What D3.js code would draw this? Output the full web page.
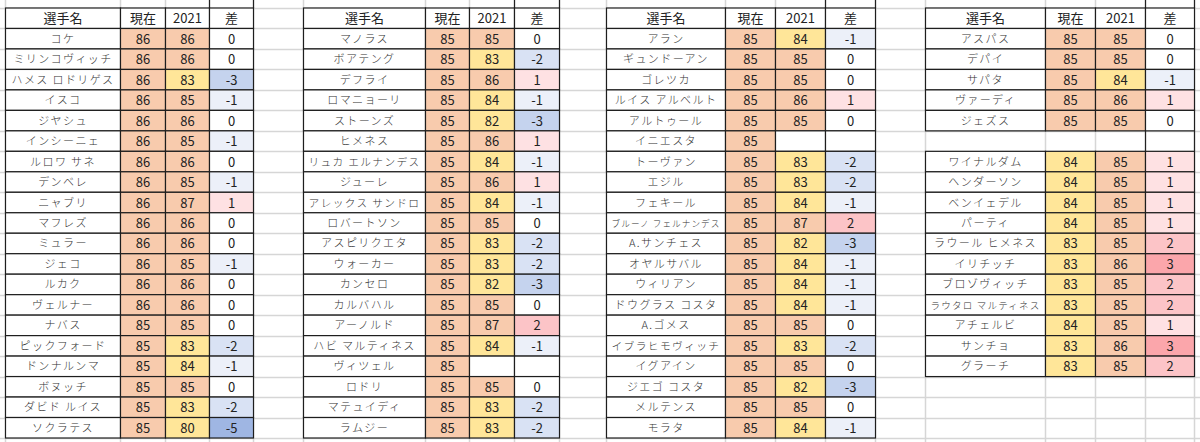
<!DOCTYPE html>
<meta charset="utf-8">
<title>選手評価 現在 / 2021</title>
<style>
body { margin: 0; background: #fff; }
svg { display: block; }
</style>
<svg id="sheet"></svg>
<script src="https://cdn.jsdelivr.net/npm/d3@7"></script>
<script>
// header labels
const headers = ["選手名", "現在", "2021", "差"];

// table 1
const players1 = ["コケ", "ミリンコヴィッチ", "ハメス ロドリゲス", "イスコ", "ジヤシュ", "インシーニェ", "ルロワ サネ", "デンベレ", "ニャブリ", "マフレズ",
	"ミュラー", "ジェコ", "ルカク", "ヴェルナー", "ナバス", "ピックフォード", "ドンナルンマ", "ボヌッチ", "ダビド ルイス", "ソクラテス"];
const now1 = [86, 86, 86, 86, 86, 86, 86, 86, 86, 86, 86, 86, 86, 86, 85, 85, 85, 85, 85, 85];
const rate1 = [86, 86, 83, 85, 86, 85, 86, 85, 87, 86, 86, 85, 86, 86, 85, 83, 84, 85, 83, 80];
const diff1 = [0, 0, -3, -1, 0, -1, 0, -1, 1, 0, 0, -1, 0, 0, 0, -2, -1, 0, -2, -5];

// table 2
const players2 = ["マノラス", "ボアテング", "デフライ", "ロマニョーリ", "ストーンズ", "ヒメネス", "リュカ エルナンデス", "ジューレ", "アレックス サンドロ", "ロバートソン",
	"アスピリクエタ", "ウォーカー", "カンセロ", "カルバハル", "アーノルド", "ハビ マルティネス", "ヴィツェル", "ロドリ", "マテュイディ", "ラムジー"];
const now2 = [85, 85, 85, 85, 85, 85, 85, 85, 85, 85, 85, 85, 85, 85, 85, 85, 85, 85, 85, 85];
const rate2 = [85, 83, 86, 84, 82, 86, 84, 86, 84, 85, 83, 83, 82, 85, 87, 84, null, 85, 83, 83];
const diff2 = [0, -2, 1, -1, -3, 1, -1, 1, -1, 0, -2, -2, -3, 0, 2, -1, null, 0, -2, -2];

// table 3
const players3 = ["アラン", "ギュンドーアン", "ゴレツカ", "ルイス アルベルト", "アルトゥール", "イニエスタ", "トーヴァン", "エジル", "フェキール", "ブルーノ フェルナンデス",
	"A.サンチェス", "オヤルサバル", "ウィリアン", "ドウグラス コスタ", "A.ゴメス", "イブラヒモヴィッチ", "イグアイン", "ジエゴ コスタ", "メルテンス", "モラタ"];
const now3 = [85, 85, 85, 85, 85, 85, 85, 85, 85, 85, 85, 85, 85, 85, 85, 85, 85, 85, 85, 85];
const rate3 = [84, 85, 85, 86, 85, null, 83, 83, 84, 87, 82, 84, 84, 84, 85, 83, 85, 82, 85, 84];
const diff3 = [-1, 0, 0, 1, 0, null, -2, -2, -1, 2, -3, -1, -1, -1, 0, -2, 0, -3, 0, -1];

// table 4 (null name = empty spacer row)
const players4 = ["アスパス", "デパイ", "サパタ", "ヴァーディ", "ジェズス", null,
	"ワイナルダム", "ヘンダーソン", "ベンイェデル", "パーティ", "ラウール ヒメネス", "イリチッチ", "ブロゾヴィッチ", "ラウタロ マルティネス", "アチェルビ", "サンチョ", "グラーチ"];
const now4 = [85, 85, 85, 85, 85, null, 84, 84, 84, 84, 83, 83, 83, 83, 84, 83, 83];
const rate4 = [85, 85, 84, 86, 85, null, 85, 85, 85, 85, 85, 86, 85, 85, 85, 86, 85];
const diff4 = [0, 0, -1, 1, 0, null, 1, 1, 1, 1, 2, 3, 2, 2, 1, 3, 2];

const width = 1200, height = 442;
const svg = d3.select("#sheet").attr("width", width).attr("height", height);

// column edges of each block on the sheet
const edges = [
	[5, 120, 165, 209, 253],
	[303, 425, 469, 514, 559],
	[606, 725, 775, 825, 875],
	[925, 1045, 1095, 1145, 1194]
];

const tables = [
	{players: players1, now: now1, rate: rate1, diff: diff1},
	{players: players2, now: now2, rate: rate2, diff: diff2},
	{players: players3, now: now3, rate: rate3, diff: diff3},
	{players: players4, now: now4, rate: rate4, diff: diff4}
];

// row 0 = header
const y = d3.scaleLinear().domain([0, 21]).range([8, 438]);
const rowH = y(1) - y(0);

const rateColor = d3.scaleThreshold().domain([85]).range(["#ffe699", "#f8cbad"]);
const diffColor = d3.scaleLinear().domain([-5, 0, 3]).range(["#9fb6e3", "#ffffff", "#fba6ab"]);

// sheet gridlines
const grid = svg.append("g").attr("class", "grid");
grid.selectAll("line.h").data(d3.range(0, 22)).join("line")
	.attr("class", "h")
	.attr("x1", 0).attr("x2", width)
	.attr("y1", d => Math.round(y(d)) + 0.5).attr("y2", d => Math.round(y(d)) + 0.5)
	.attr("stroke", "#d6d6d6").attr("stroke-width", 1.5);
grid.selectAll("line.v").data(edges.flat()).join("line")
	.attr("class", "v")
	.attr("x1", d => d + 0.5).attr("x2", d => d + 0.5)
	.attr("y1", 0).attr("y2", height)
	.attr("stroke", "#d6d6d6").attr("stroke-width", 1.5);

// dark stubs above the headers (borders of rows cut off at the top)
edges.forEach(e => {
	[e[3], e[4]].forEach(x => {
		svg.append("line")
			.attr("x1", x + 0.5).attr("x2", x + 0.5)
			.attr("y1", 0).attr("y2", y(0))
			.attr("stroke", "#222").attr("stroke-width", 1.2);
	});
});

function fitText(sel, maxW) {
	sel.each(function() {
		const node = this;
		let fs = parseFloat(node.getAttribute("font-size"));
		let w = node.getBBox().width;
		if (w > maxW) {
			const ls = parseFloat(node.getAttribute("letter-spacing")) || 0;
			const k = maxW / w;
			node.setAttribute("font-size", (fs * k).toFixed(2));
			node.setAttribute("letter-spacing", (ls * k).toFixed(2));
		}
	});
}

tables.forEach((t, ti) => {
	const e = edges[ti];
	const g = svg.append("g").attr("class", "table" + ti);

	const cells = [];
	headers.forEach((h, ci) => cells.push({row: 0, col: ci, text: h, fill: "#ffffff", header: true}));
	t.players.forEach((p, i) => {
		if (p === null) return;
		const r = i + 1;
		cells.push({row: r, col: 0, text: p, fill: "#ffffff", name: true});
		cells.push({row: r, col: 1, text: t.now[i] == null ? "" : t.now[i], fill: t.now[i] == null ? "#ffffff" : rateColor(t.now[i])});
		cells.push({row: r, col: 2, text: t.rate[i] == null ? "" : t.rate[i], fill: t.rate[i] == null ? "#ffffff" : rateColor(t.rate[i])});
		cells.push({row: r, col: 3, text: t.diff[i] == null ? "" : t.diff[i], fill: t.diff[i] == null ? "#ffffff" : diffColor(t.diff[i])});
	});

	g.selectAll("rect.cell").data(cells).join("rect")
		.attr("class", "cell")
		.attr("x", d => e[d.col] + 0.5)
		.attr("y", d => y(d.row))
		.attr("width", d => e[d.col + 1] - e[d.col])
		.attr("height", rowH)
		.attr("fill", d => d.fill)
		.attr("stroke", "#1e1e1e")
		.attr("stroke-width", 1.2);

	const txt = g.selectAll("text").data(cells).join("text")
		.attr("x", d => (e[d.col] + e[d.col + 1]) / 2 + 0.5)
		.attr("y", d => y(d.row) + rowH / 2 + (d.name ? 4 : 5))
		.attr("text-anchor", "middle")
		.attr("font-family", "'Noto Sans CJK JP', 'Noto Sans', sans-serif")
		.attr("font-size", d => d.name ? 11 : 13)
		.attr("letter-spacing", d => d.name ? 1.4 : 0)
		.attr("font-weight", d => d.name ? 300 : 400)
		.attr("fill", d => d.name ? "#333" : "#222")
		.text(d => d.text);

	fitText(txt.filter(d => d.name), e[1] - e[0] - 10);
});

// spacer row in the last block keeps its two right borders
[edges[3][3], edges[3][4]].forEach(x => {
	svg.append("line")
		.attr("x1", x + 0.5).attr("x2", x + 0.5)
		.attr("y1", y(6)).attr("y2", y(7))
		.attr("stroke", "#222").attr("stroke-width", 1.2);
});
</script>
